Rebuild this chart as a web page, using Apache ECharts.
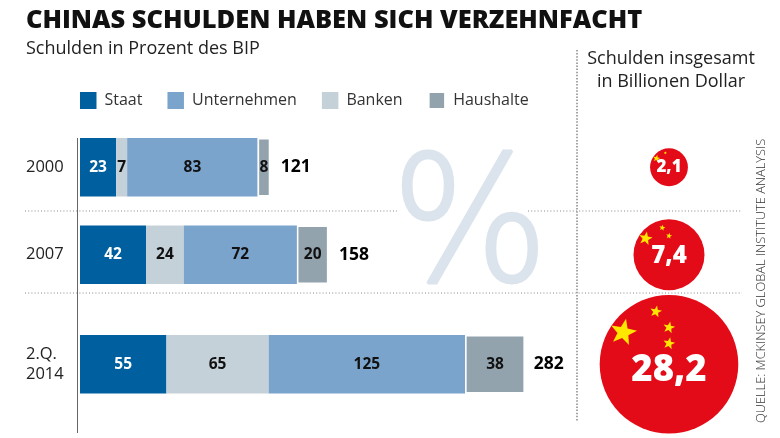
<!DOCTYPE html>
<html><head><meta charset="utf-8">
<style>html,body{margin:0;padding:0;background:#fff}#c{width:780px;height:438px}</style>
<script src="https://cdn.jsdelivr.net/npm/echarts@6/dist/echarts.min.js"></script>
</head><body><div id="c"></div>
<script>
const years = ['2000', '2007', '2.Q.\n2014'];
const staat = [23, 42, 55];
const banken = [7, 24, 65];
const unternehmen = [83, 72, 125];
const haushalte = [8, 20, 38];
const totals = [121, 158, 282];
const billions = [2.1, 7.4, 28.2];
const billionLabels = ['2,1', '7,4', '28,2'];
const legendOrder = ['Staat', 'Unternehmen', 'Banken', 'Haushalte'];

const FONT = '"Open Sans"';
const rowTop = [138, 225.5, 335], rowH = 58.5;
const barLeft = 80, pxPerUnit = 1.572, axisMax = 300;
const bubbleLeft = 599, bubbleW = 140;
const numFont = [17, 24, 36.5], numDy = [0, 1.5, 6], starCount = [2, 3, 4];
const starDefs = [[-0.66,-0.46,0.2],[-0.19,-0.76,0.09],[0,-0.53,0.09],[0,-0.3,0.09]];
const k = 26.1;

function starPts(cx, cy, R){
  const p=[];
  for(let i=0;i<10;i++){
    const r = i%2? R*0.42 : R, a = -Math.PI/2 + i*Math.PI/5 + 0.2;
    p.push([cx+r*Math.cos(a), cy+r*Math.sin(a)]);
  }
  return p;
}
const bubbleRender = i => (params, api) => {
  const c = api.coord([0,0]);
  const r = k*Math.sqrt(api.value(2))/2;
  const children = [{type:'circle',shape:{cx:c[0],cy:c[1],r},style:{fill:'#e30b17'}}];
  for(let s=0;s<starCount[i];s++){
    const d=starDefs[s];
    children.push({type:'polygon',shape:{points:starPts(c[0]+d[0]*r,c[1]+d[1]*r,d[2]*r)},style:{fill:'#ffe600'}});
  }
  children.push({type:'text',style:{x:c[0],y:c[1]+numDy[i],text:billionLabels[i],fill:'#fff',
    font:`800 ${numFont[i]}px ${FONT}`,align:'center',verticalAlign:'middle'}});
  return {type:'group',children};
};

const grid=[],xAxis=[],yAxis=[],series=[];
const parts=[['Staat',staat,'#00609f','#fff'],['Banken',banken,'#c5d1d9','#111'],
  ['Unternehmen',unternehmen,'#7ba4cd','#111'],['Haushalte',haushalte,'#92a3ae','#111']];
years.forEach((y,i)=>{
  grid.push({left:barLeft,top:rowTop[i],width:axisMax*pxPerUnit,height:rowH});
  xAxis.push({gridIndex:i,type:'value',min:0,max:axisMax,show:false});
  yAxis.push({gridIndex:i,type:'category',data:[y],axisLine:{show:false},axisTick:{show:false},
    axisLabel:{margin:54,align:'left',color:'#222',fontFamily:FONT,fontSize:16.5,lineHeight:20,padding:i===2?[4,0,0,0]:0}});
  parts.forEach(([name,arr,color,tc])=>{
    const isH=name==='Haushalte';
    series.push({name,type:'bar',stack:'s'+i,xAxisIndex:i,yAxisIndex:i,barWidth:'100%',data:[arr[i]],
      itemStyle:{color,borderColor:isH?'#fff':color,borderWidth:isH?1.5:0},
      label:{show:true,position:'inside',color:tc,fontFamily:FONT,fontWeight:700,fontSize:15.5}});
  });
  series.push({name:'Gesamt',type:'scatter',xAxisIndex:i,yAxisIndex:i,symbolSize:1,data:[[totals[i],y]],
    itemStyle:{color:'transparent',opacity:1},
    label:{show:true,position:'right',distance:10,formatter:String(totals[i]),color:'#000',fontFamily:FONT,fontWeight:700,fontSize:17.5}});
});
years.forEach((y,i)=>{
  const g=grid.length;
  grid.push({left:bubbleLeft,top:rowTop[i],width:bubbleW,height:rowH});
  xAxis.push({gridIndex:g,type:'value',min:-1,max:1,show:false});
  yAxis.push({gridIndex:g,type:'value',min:-1,max:1,show:false});
  series.push({name:'Billionen',type:'custom',xAxisIndex:g,yAxisIndex:g,clip:false,
    data:[[0,0,billions[i]]],renderItem:bubbleRender(i),z:5});
});

const dots=(shape,w,dash)=>({type:'line',shape,style:{stroke:'#888',lineWidth:w||1,lineDash:dash||[1,2.2]},silent:true});
const chart=echarts.init(document.getElementById('c'),null,{renderer:'canvas'});
chart.setOption({
  animation:false,backgroundColor:'#fff',
  textStyle:{fontFamily:FONT},
  legend:{data:legendOrder,left:75,top:86,itemWidth:16.5,itemHeight:17,itemGap:25,selectedMode:false,
    textStyle:{fontFamily:FONT,fontSize:16,color:'#333',padding:[0,0,0,3]},icon:'rect'},
  grid,xAxis,yAxis,series,
  graphic:[
    {type:'text',left:26,top:8,style:{text:'CHINAS SCHULDEN HABEN SICH VERZEHNFACHT',font:`800 25.45px ${FONT}`,fill:'#111'}},
    {type:'text',left:26,top:40,style:{text:'Schulden in Prozent des BIP',font:`400 18px ${FONT}`,fill:'#222'}},
    {type:'text',x:671,y:47,style:{text:'Schulden insgesamt\nin Billionen Dollar',font:`400 18px ${FONT}`,lineHeight:23,fill:'#222',align:'center'}},
    {type:'text',x:768,y:423,rotation:Math.PI/2,style:{text:'QUELLE: MCKINSEY GLOBAL INSTITUTE ANALYSIS',font:`300 12.8px ${FONT}`,fill:'#333',align:'left',verticalAlign:'bottom'}},
    {type:'text',x:470,y:236,z:-1,scaleX:0.95,style:{text:'%',font:`200 175px "DejaVu Sans"`,fill:'#dbe4ec',stroke:'#dbe4ec',lineWidth:3,align:'center',verticalAlign:'middle'}},
    {type:'line',shape:{x1:77.5,y1:138,x2:77.5,y2:433},style:{stroke:'#666',lineWidth:1}},
    dots({x1:25,y1:211,x2:397,y2:211}),
    dots({x1:528,y1:211,x2:742,y2:211}),
    dots({x1:25,y1:293,x2:742,y2:293}),
    dots({x1:577,y1:50,x2:577,y2:421},1.5,[1.5,1.6])
  ]
});
</script></body></html>
